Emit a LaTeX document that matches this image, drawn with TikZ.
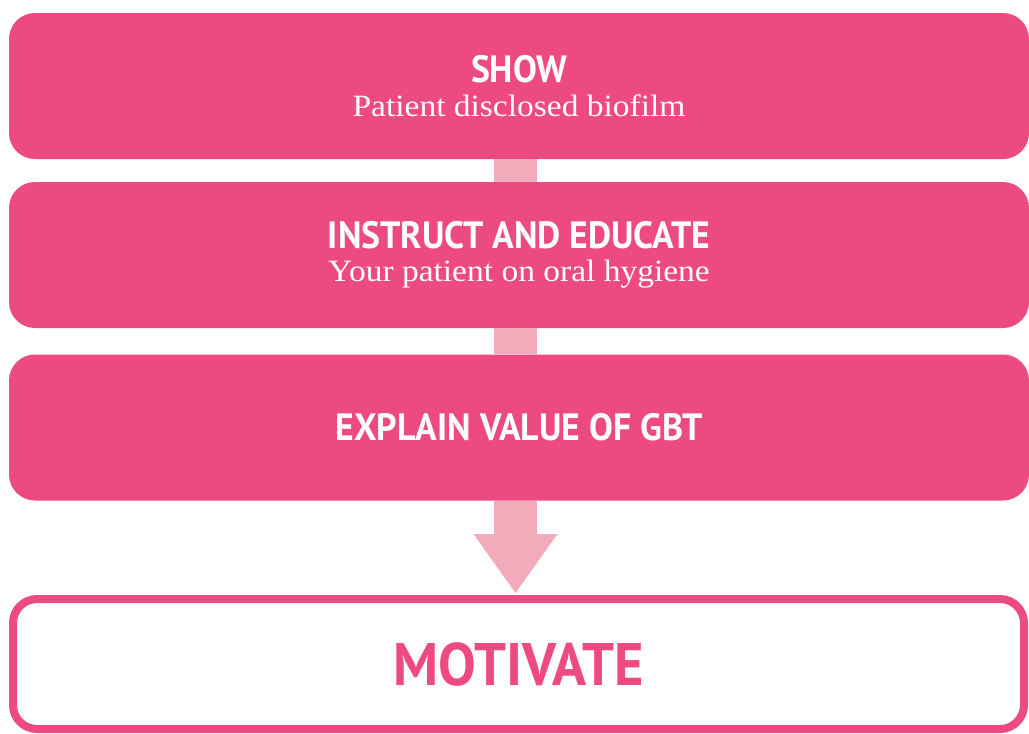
\documentclass[tikz,border=0pt]{standalone}
\usepackage{fontspec}
\setmainfont{Liberation Serif}[FakeStretch=1.08]
\setsansfont{PT Sans}[FakeStretch=0.94]
\usepackage{xcolor}
\usetikzlibrary{arrows.meta}
\definecolor{pinkmain}{RGB}{236,74,128}
\definecolor{pinklight}{RGB}{243,170,187}
\newcommand{\headfont}{\sffamily\bfseries\fontsize{38}{40}\selectfont}
\newcommand{\subfont}{\rmfamily\fontsize{31}{33}\selectfont}
\tikzset{stepbox/.style={rectangle,rounded corners=26pt,fill=pinkmain,text=white,align=center,minimum width=1020pt,minimum height=146pt,inner sep=0pt},
goalbox/.style={rectangle,rounded corners=24pt,draw=pinkmain,line width=8pt,fill=white,text=pinkmain,minimum width=1011pt,minimum height=130pt,inner sep=0pt},
link/.style={pinklight,line width=43pt}}

\begin{document}
\begin{tikzpicture}[x=1pt,y=-1pt]
        \useasboundingbox (0,0) rectangle (1029,734);
        \node[stepbox] (show)at (519,86) {\headfont SHOW\\[10pt]\subfont Patient disclosed biofilm};
        \node[stepbox] (instruct)at (519,255) {\headfont INSTRUCT AND EDUCATE\\[10pt]\subfont Your patient on oral hygiene};
        \node[stepbox] (explain)at (519,427.5) {\headfont EXPLAIN VALUE OF GBT};
        \node[goalbox] (motivate)at (518.5,664) {\sffamily\bfseries\fontsize{60}{62}\selectfont MOTIVATE};
        \coordinate (tip) at (515.5,593);

        \draw [link] ([xshift=-3.5pt]show.south) -- ([xshift=-3.5pt]instruct.north);
        \draw [link] ([xshift=-3.5pt]instruct.south) -- ([xshift=-3.5pt]explain.north);
        \draw [link,-{Triangle[length=59pt,width=84pt,line width=0pt]}] ([xshift=-3.5pt]explain.south) -- (tip);
    \end{tikzpicture}
\end{document}
